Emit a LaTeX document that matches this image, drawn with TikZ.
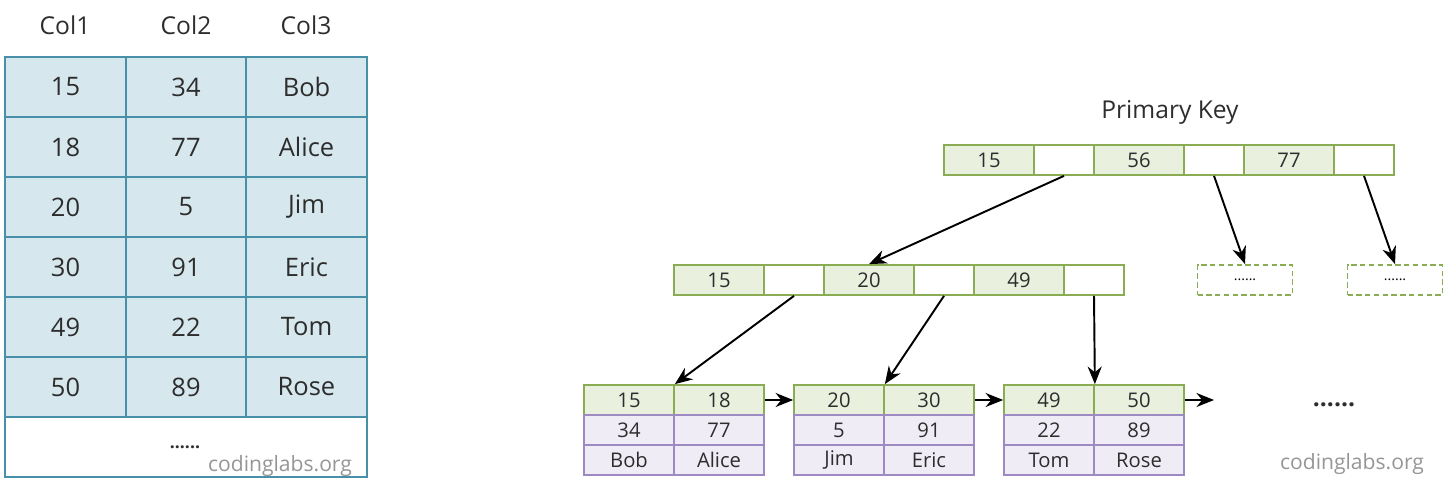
\documentclass[tikz,border=0pt]{standalone}
\usepackage{fontspec}
\setmainfont{Open Sans}
\usetikzlibrary{arrows.meta}

\definecolor{tblfill}{RGB}{214,232,238}
\definecolor{tbldraw}{RGB}{72,144,170}
\definecolor{keyfill}{RGB}{234,240,222}
\definecolor{keydraw}{RGB}{138,172,82}
\definecolor{recfill}{RGB}{239,236,245}
\definecolor{recdraw}{RGB}{158,138,194}
\definecolor{txt}{RGB}{45,45,45}
\definecolor{mark}{RGB}{150,150,150}

\begin{document}
\begin{tikzpicture}[x=0.02cm,y=-0.02cm,-{Stealth[length=10pt,width=8pt]},line width=1.1pt,
      tcell/.style={draw=tbldraw,fill=tblfill,line width=1.3pt,minimum width=2.41cm,
        minimum height=1.2cm,inner sep=0pt,text=txt,font=\fontsize{14.5}{16}\selectfont},
      head/.style={text=txt,font=\fontsize{14}{16}\selectfont},
      key/.style={draw=keydraw,fill=keyfill,line width=1pt,minimum width=1.8cm,
        minimum height=0.6cm,inner sep=0pt,text=txt,font=\fontsize{11.5}{13}\selectfont},
      ptr/.style={draw=keydraw,fill=white,line width=1pt,minimum width=1.2cm,
        minimum height=0.6cm,inner sep=0pt},
      rec/.style={draw=recdraw,fill=recfill,line width=1pt,minimum width=1.8cm,
        minimum height=0.6cm,inner sep=0pt,text=txt,font=\fontsize{11.5}{13}\selectfont},
      more/.style={draw=keydraw,dash pattern=on 3pt off 2pt,line width=1pt,minimum width=1.9cm,
        minimum height=0.6cm,inner sep=0pt,font=\fontsize{8}{9}\selectfont},
      site/.style={text=mark,font=\fontsize{12}{14}\selectfont}]
      \useasboundingbox (0,0) rectangle (1456,492);

      % table
      \node[head] (c1) at (65, 25) {Col1};
      \node[head] (c2) at (186, 25) {Col2};
      \node[head] (c3) at (306, 25) {Col3};
      \foreach \a/\b/\c [count=\i from 0] in {15/34/Bob,18/77/Alice,20/5/Jim,
        30/91/Eric,49/22/Tom,50/89/Rose} {
        \node[tcell] (r\i a) at (65.5, 87+60*\i) {\a};
        \node[tcell] (r\i b) at (186, 87+60*\i) {\b};
        \node[tcell] (r\i c) at (306.5, 87+60*\i) {\c};
      }
      \node[tcell,fill=white,minimum width=7.24cm] (rest) at (186, 447) {};
      \node[text=txt,font=\fontsize{10}{12}\selectfont\bfseries] (tdots) at (185, 447) {......};
      \node[site] (tsite) at (280, 466) {codinglabs.org};

      % root
      \node[text=txt,font=\fontsize{14}{16}\selectfont] (pk) at (1170, 112) {Primary Key};
      \node[key] (t1) at (989, 160) {15};
      \node[ptr] (t2) at (1064, 160) {};
      \node[key] (t3) at (1139, 160) {56};
      \node[ptr] (t4) at (1214, 160) {};
      \node[key] (t5) at (1289, 160) {77};
      \node[ptr] (t6) at (1364, 160) {};

      % inner
      \node[key] (m1) at (719, 280) {15};
      \node[ptr] (m2) at (794, 280) {};
      \node[key] (m3) at (869, 280) {20};
      \node[ptr] (m4) at (944, 280) {};
      \node[key] (m5) at (1019, 280) {49};
      \node[ptr] (m6) at (1094, 280) {};

      \node[more] (d1) at (1245, 280) {......};
      \node[more] (d2) at (1395, 280) {......};

      % leaves
      \node[key] (l1a) at (629, 400) {15};
      \node[key] (l1b) at (719, 400) {18};
      \node[rec] at (629, 430) {34};
      \node[rec] at (719, 430) {77};
      \node[rec] at (629, 460) {Bob};
      \node[rec] at (719, 460) {Alice};

      \node[key] (l2a) at (839, 400) {20};
      \node[key] (l2b) at (929, 400) {30};
      \node[rec] at (839, 430) {5};
      \node[rec] at (929, 430) {91};
      \node[rec] at (839, 460) {Jim};
      \node[rec] at (929, 460) {Eric};

      \node[key] (l3a) at (1049, 400) {49};
      \node[key] (l3b) at (1139, 400) {50};
      \node[rec] at (1049, 430) {22};
      \node[rec] at (1139, 430) {89};
      \node[rec] at (1049, 460) {Tom};
      \node[rec] at (1139, 460) {Rose};

      \coordinate (next) at (1214, 400);
      \node[text=txt,font=\fontsize{14}{16}\selectfont\bfseries] (ldots) at (1334, 405) {......};
      \node[site] (lsite) at (1352, 464) {codinglabs.org};

      \path
      (t2.south) edge (m3.north)
      (t4.south) edge (d1.north)
      (t6.south) edge (d2.north)

      (m2.south) edge (l1a.north east)
      (m4.south) edge (l2a.north east)
      (m6.south) edge (l3a.north east)

      (l1b.east) edge (l2a.west)
      (l2b.east) edge (l3a.west)
      (l3b.east) edge (next)
      ;

      \end{tikzpicture}
\end{document}
